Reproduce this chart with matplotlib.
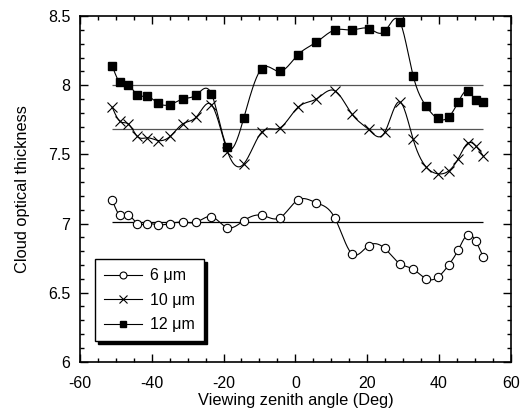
import matplotlib
matplotlib.use("Agg")
import matplotlib.pyplot as plt
from matplotlib.ticker import MultipleLocator
import numpy as np

plt.rcParams['font.family'] = ['Liberation Sans', 'DejaVu Sans']
plt.rcParams['axes.unicode_minus'] = False

# viewing zenith angles (deg), shared by all three channels
angles = [-51.0, -48.9, -46.5, -44.0, -41.2, -38.2, -34.9, -31.4, -27.6, -23.4,
          -18.9, -14.4, -9.4, -4.4, 0.7, 5.8, 11.0, 15.8, 20.4, 24.9,
          29.1, 32.8, 36.4, 39.6, 42.7, 45.4, 48.0, 50.3, 52.3]

tau_6 = [7.17, 7.06, 7.06, 7.00, 7.00, 6.99, 7.00, 7.01, 7.01, 7.05,
         6.97, 7.02, 7.06, 7.04, 7.17, 7.15, 7.04, 6.78, 6.84, 6.82,
         6.71, 6.67, 6.60, 6.61, 6.70, 6.81, 6.92, 6.87, 6.76]
tau_10 = [7.84, 7.74, 7.72, 7.63, 7.62, 7.60, 7.63, 7.72, 7.77, 7.86,
          7.52, 7.43, 7.66, 7.69, 7.84, 7.90, 7.96, 7.79, 7.68, 7.66,
          7.88, 7.61, 7.41, 7.36, 7.38, 7.47, 7.58, 7.56, 7.49]
tau_12 = [8.14, 8.02, 8.00, 7.93, 7.92, 7.87, 7.86, 7.90, 7.93, 7.94,
          7.55, 7.76, 8.12, 8.10, 8.22, 8.31, 8.40, 8.40, 8.41, 8.39,
          8.46, 8.07, 7.85, 7.76, 7.77, 7.88, 7.96, 7.89, 7.88]

# mean values (horizontal reference lines)
mean_6, mean_10, mean_12 = 7.01, 7.68, 8.00

labels = ['6 \u03bcm', '10 \u03bcm', '12 \u03bcm']


def smooth(x, y, n=400):
    # natural cubic spline, only for drawing the smoothed connecting curve
    x = np.asarray(x, float)
    y = np.asarray(y, float)
    m = len(x)
    h = np.diff(x)
    A = np.zeros((m, m))
    b = np.zeros(m)
    A[0, 0] = A[-1, -1] = 1
    for i in range(1, m - 1):
        A[i, i - 1] = h[i - 1]
        A[i, i] = 2 * (h[i - 1] + h[i])
        A[i, i + 1] = h[i]
        b[i] = 6 * ((y[i + 1] - y[i]) / h[i] - (y[i] - y[i - 1]) / h[i - 1])
    M = np.linalg.solve(A, b)
    xs = np.linspace(x[0], x[-1], n)
    k = np.clip(np.searchsorted(x, xs) - 1, 0, m - 2)
    t0 = x[k + 1] - xs
    t1 = xs - x[k]
    hk = h[k]
    ys = (M[k] * t0 ** 3 / (6 * hk) + M[k + 1] * t1 ** 3 / (6 * hk)
          + (y[k] / hk - M[k] * hk / 6) * t0 + (y[k + 1] / hk - M[k + 1] * hk / 6) * t1)
    return xs, ys


fig = plt.figure(figsize=(5.26, 4.13), dpi=100)
ax = fig.add_axes([0.152, 0.124, 0.819, 0.837])

styles = [
    dict(marker='o', mfc='white', mec='black', ms=6, mew=0.8),
    dict(marker='x', mec='black', ms=7, mew=0.8),
    dict(marker='s', mfc='black', mec='black', ms=6),
]
leg_ms = [5, 6, 5]

for ys, lab, st, lms in zip([tau_6, tau_10, tau_12], labels, styles, leg_ms):
    xs_s, ys_s = smooth(angles, ys)
    ax.plot(xs_s, ys_s, color='black', lw=0.8, zorder=2)
    ax.plot(angles, ys, linestyle='none', zorder=3, **st)
    st_leg = dict(st, ms=lms)
    ax.plot([], [], color='black', lw=0.8, label=lab, **st_leg)

ax.hlines([mean_12, mean_10], angles[0], angles[-1], color='#555555', lw=0.9, zorder=1)
ax.hlines([mean_6], angles[0], angles[-1], color='black', lw=0.9, zorder=1)

ax.set_xlim(-60, 60)
ax.set_ylim(6, 8.5)
ax.xaxis.set_major_locator(MultipleLocator(20))
ax.xaxis.set_minor_locator(MultipleLocator(5))
ax.yaxis.set_minor_locator(MultipleLocator(0.1))
ax.set_yticks([6, 6.5, 7, 7.5, 8, 8.5])
ax.set_yticklabels(['6', '6.5', '7', '7.5', '8', '8.5'])
ax.tick_params(which='both', direction='in', top=True, right=True, labelsize=11.5, width=1)
ax.tick_params(which='major', length=6)
ax.tick_params(which='minor', length=3)
ax.tick_params(axis='x', which='major', pad=10)
ax.tick_params(axis='y', which='major', pad=7)
for sp in ax.spines.values():
    sp.set_linewidth(1.2)

ax.set_xlabel('Viewing zenith angle (Deg)', fontsize=11.8, labelpad=2)
ax.set_ylabel('Cloud optical thickness', fontsize=11.8, labelpad=13)

leg = ax.legend(loc='lower left', bbox_to_anchor=(0.035, 0.06), borderaxespad=0,
                fontsize=11.5, frameon=True, fancybox=False, edgecolor='black',
                handlelength=2.4, handletextpad=0.5, borderpad=0.55, labelspacing=0.6,
                shadow={'color': 'black', 'alpha': 1})
leg.get_frame().set_linewidth(1.0)

fig.savefig('out.png', dpi=100)
